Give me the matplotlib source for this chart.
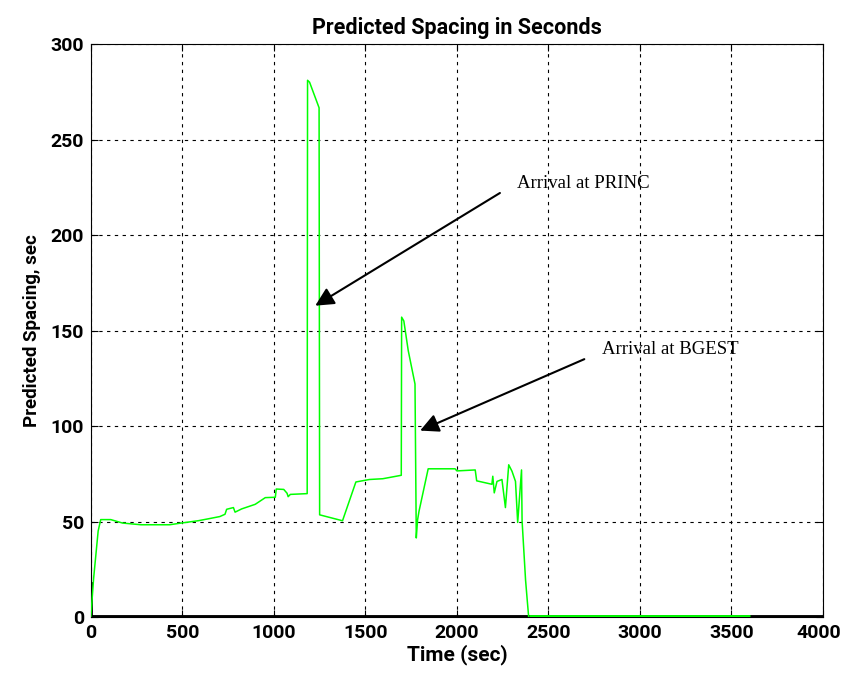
import matplotlib.pyplot as plt
from matplotlib.transforms import ScaledTranslation

# green trace: predicted spacing (sec) vs time (sec)
time_sec = [0, 15, 40, 54, 109, 173, 274, 430, 494, 586, 641, 705, 733, 742, 779, 788,
            824, 898, 953, 1008, 1013, 1054, 1072, 1078, 1090, 1182, 1184, 1195, 1247,
            1250, 1375, 1448, 1522, 1595, 1696, 1698, 1710, 1734, 1771, 1778, 1785, 1793,
            1843, 1990, 2000, 2100, 2108, 2191, 2196, 2204, 2219, 2246, 2265, 2283, 2301,
            2320, 2332, 2343, 2353, 2356, 2375, 2384, 2392]
spacing = [0, 20, 45, 51, 51, 49.2, 48.3, 48.3, 49.2, 50.4, 51.4, 52.6, 53.8, 56.4, 57.3, 54.9,
           56.6, 59, 62.5, 62.7, 67, 66.8, 64.8, 63, 64.2, 64.6, 281, 280, 266.6,
           53.5, 50.4, 70.7, 72, 72.4, 74.2, 157, 155, 139.5, 122, 41.4, 50.8, 55.4,
           77.6, 77.6, 76.5, 77, 71.3, 69.5, 73.7, 65, 71, 72, 57.3, 79.7, 76.3,
           71, 49.5, 64, 77, 50.4, 19.4, 9, 0]

# segment sitting on zero after the last arrival
zero_start, zero_end = 2392, 3600

fig = plt.figure(figsize=(8.41, 6.77), dpi=100)
ax = plt.axes([0.108, 0.0886, 0.8706, 0.8464])

ax.plot([0, 4000], [0, 0], color='black', lw=3.5, solid_capstyle='butt', zorder=3)
ax.plot([0, 0], [0, 18], color='black', lw=2, zorder=3)
ax.plot(time_sec, spacing, color='#00ff00', lw=1.1, zorder=4)
ax.plot([zero_start, zero_end], [0, 0], color='#00ff00', lw=3.5, solid_capstyle='butt', zorder=4)

ax.set_xlim(0, 4000)
ax.set_ylim(0, 300)
ax.set_xticks(range(0, 4001, 500))
ax.set_yticks(range(0, 301, 50))
ax.grid(True, color='black', linestyle=(0, (3, 4)), lw=0.8)
ax.tick_params(direction='in', top=True, right=True, length=5, width=0.8, pad=5)
for s in ax.spines.values():
    s.set_linewidth(0.8)

font = ['Roboto', 'DejaVu Sans']
for lab in ax.get_xticklabels() + ax.get_yticklabels():
    lab.set_family(font)
    lab.set_weight('bold')
    lab.set_fontsize(14)
last = ax.get_xticklabels()[-1]
last.set_transform(last.get_transform() + ScaledTranslation(-4 / 100, 0, fig.dpi_scale_trans))

ax.set_title("Predicted Spacing in Seconds", family=font, weight='bold', fontsize=15.5, pad=7)
ax.set_xlabel("Time (sec)", family=font, weight='bold', fontsize=15, labelpad=2)
ax.set_ylabel("Predicted Spacing, sec", family=font, weight='bold', fontsize=13.5, labelpad=7)

arrow = dict(arrowstyle='-|>', mutation_scale=28, color='black', lw=1.5, shrinkA=0, shrinkB=0)
ax.annotate("", xy=(1226, 163), xytext=(2235, 222), arrowprops=arrow, zorder=5)
ax.text(2330, 227, "Arrival at PRINC", family='Liberation Serif', fontsize=13.5,
        va='center', ha='left')
ax.annotate("", xy=(1799, 97.6), xytext=(2696, 135), arrowprops=arrow, zorder=5)
ax.text(2790, 140, "Arrival at BGEST", family='Liberation Serif', fontsize=13.5,
        va='center', ha='left')

plt.savefig("out.png", dpi=100)
plt.close('all')
